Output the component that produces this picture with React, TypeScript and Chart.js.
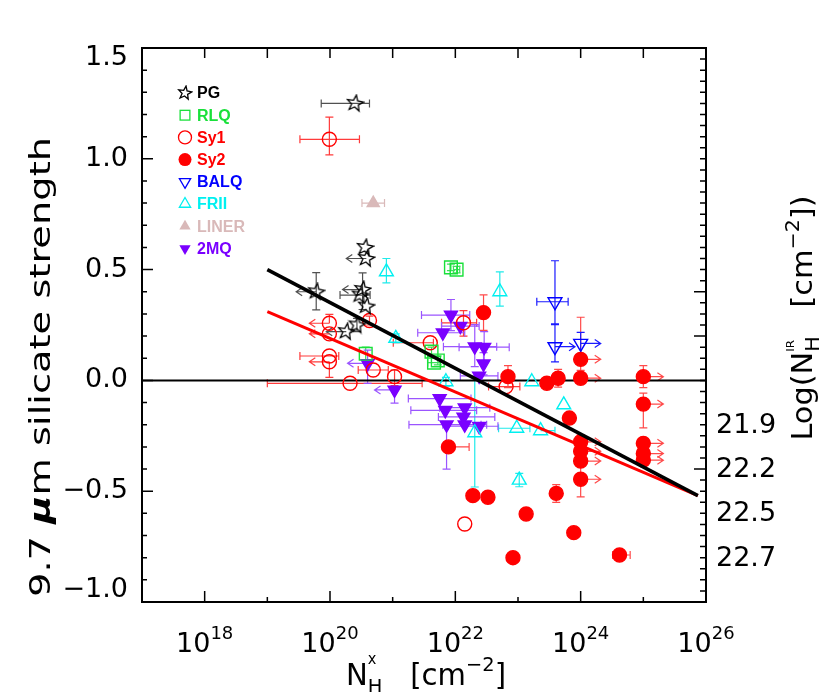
import React, { useEffect, useRef } from "react";
import { Chart, registerables } from "chart.js";
Chart.register(...registerables);

// Each row: [log10 N_H^x, 9.7um silicate strength, xErrLo (dex), xErrHi (dex), yErrLo, yErrHi, limit (-1 upper / +1 lower in N_H)]
const pgRows = [
  [20.40, 1.25, 0.54, 0.23, 0, 0, 0],
  [20.56, 0.60, 0, 0, 0, 0, 0],
  [20.58, 0.55, 0, 0, 0, 0, -1],
  [19.78, 0.40, 0, 0, 0.082, 0.086, -1],
  [20.52, 0.41, 0, 0, 0.09, 0.075, -1],
  [20.48, 0.385, 0.32, 0.16, 0, 0, 0],
  [20.58, 0.335, 0, 0, 0, 0, 0],
  [20.43, 0.25, 0, 0, 0.03, 0.03, 0],
  [20.26, 0.22, 0, 0, 0, 0, -1],
];
const rlqRows = [
  [21.93, 0.51, 0, 0, 0.015, 0.015, 0],
  [22.02, 0.50, 0.05, 0.05, 0.015, 0.015, 0],
  [20.57, 0.12, 0, 0, 0.03, 0.03, 0],
  [21.62, 0.13, 0, 0, 0.02, 0.02, 0],
  [21.66, 0.08, 0.1, 0.1, 0, 0, 0],
  [21.72, 0.09, 0, 0, 0.02, 0.02, 0],
];
const sy1Rows = [
  [19.99, 1.088, 0.47, 0.48, 0.07, 0.10, 0],
  [19.99, 0.258, 0, 0, 0, 0.04, -1],
  [19.99, 0.21, 0, 0, 0, 0, -1],
  [19.99, 0.11, 0.47, 0.15, 0, 0, 0],
  [19.99, 0.084, 0, 0, 0.07, 0, -1],
  [20.63, 0.27, 0, 0, 0.02, 0.02, 0],
  [21.60, 0.17, 0.59, 0.05, 0, 0, 0],
  [20.69, 0.047, 0.24, 0.24, 0, 0, 0],
  [21.03, 0.017, 0, 0, 0.04, 0.03, 0],
  [20.32, -0.013, 1.32, 1.15, 0, 0, 0],
  [22.13, 0.26, 0.35, 0.21, 0.06, 0.055, 0],
  [22.81, -0.028, 0.28, 0.22, 0, 0, 0],
  [22.15, -0.648, 0, 0, 0, 0, 0],
];
const sy2Rows = [
  [22.45, 0.306, 0, 0, 0.08, 0.08, 0],
  [22.84, 0.017, 0, 0, 0.05, 0.05, 0],
  [23.46, -0.013, 0, 0, 0.02, 0.02, 0],
  [23.64, 0.01, 0, 0, 0.04, 0.04, 0],
  [24.0, 0.095, 0, 0, 0.05, 0.19, 1],
  [24.0, 0.01, 0, 0, 0, 0, 1],
  [25.0, 0.017, 0, 0, 0.05, 0.05, 1],
  [25.0, -0.107, 0, 0, 0.107, 0.05, 1],
  [25.0, -0.284, 0, 0, 0.02, 0.02, 1],
  [25.0, -0.33, 0, 0, 0, 0, 1],
  [25.0, -0.36, 0, 0, 0, 0, 1],
  [24.0, -0.277, 0, 0, 0, 0, 1],
  [24.0, -0.32, 0, 0, 0, 0, 1],
  [24.0, -0.364, 0, 0, 0, 0, 1],
  [24.0, -0.446, 0, 0, 0.08, 0.2, 1],
  [23.82, -0.17, 0, 0, 0, 0, 0],
  [21.89, -0.30, 0, 0.33, 0, 0, 0],
  [22.28, -0.52, 0, 0, 0, 0, 0],
  [22.52, -0.527, 0, 0, 0, 0, 0],
  [23.61, -0.51, 0, 0, 0.04, 0.04, 0],
  [23.13, -0.603, 0, 0, 0, 0, 0],
  [23.89, -0.687, 0, 0, 0, 0, 0],
  [22.92, -0.80, 0, 0, 0, 0, 0],
  [24.62, -0.788, 0.11, 0.17, 0, 0, 0],
];
const balqRows = [
  [23.59, 0.355, 0.29, 0.21, 0.1, 0.185, 0],
  [23.59, 0.152, 0, 0, 0.068, 0.1, 1],
  [24.0, 0.167, 0, 0, 0.05, 0.05, 1],
];
const friiRows = [
  [20.90, 0.49, 0, 0, 0.05, 0.06, 0],
  [21.05, 0.19, 0, 0, 0.02, 0.02, 0],
  [21.85, -0.006, 0, 0, 0.02, 0.02, 0],
  [22.71, 0.40, 0, 0, 0.065, 0.09, 0],
  [23.22, -0.006, 0, 0, 0, 0, 0],
  [23.73, -0.11, 0, 0, 0, 0, 0],
  [22.98, -0.216, 0.29, 0.21, 0, 0, 0],
  [23.36, -0.227, 0, 0.23, 0, 0, 0],
  [22.31, -0.236, 0, 0, 0.245, 0.25, 0],
  [23.02, -0.45, 0, 0, 0.03, 0.03, 0],
];
const linerRows = [
  [20.69, 0.80, 0.18, 0.18, 0, 0, 0],
];
const mq2Rows = [
  [20.60, 0.077, 0, 0, 0.09, 0.06, -1],
  [21.03, -0.043, 0, 0, 0.06, 0, -1],
  [21.93, 0.295, 0.47, 0.3, 0.07, 0.07, 0],
  [22.08, 0.245, 0.3, 0.3, 0, 0, 0],
  [21.80, 0.215, 0.4, 0.35, 0, 0, 0],
  [22.31, 0.152, 0.5, 0.35, 0.09, 0.1, 0],
  [22.46, 0.15, 0.4, 0.4, 0.07, 0.07, 0],
  [22.45, 0.075, 0, 0, 0.05, 0.05, 0],
  [22.38, 0.02, 0.3, 0.3, 0, 0, 0],
  [21.75, -0.082, 0.5, 0.5, 0, 0, 0],
  [21.84, -0.135, 0.55, 0.5, 0, 0, 0],
  [22.15, -0.123, 0.4, 0.4, 0, 0, 0],
  [22.13, -0.165, 0.4, 0.5, 0, 0, 0],
  [21.86, -0.20, 0.6, 0.55, 0.2, 0, 0],
  [22.15, -0.20, 0.35, 0.35, 0, 0, 0],
  [22.38, -0.207, 0.5, 0.3, 0, 0, 0],
];

const seriesNames = ["PG", "RLQ", "Sy1", "Sy2", "BALQ", "FRII", "LINER", "2MQ"];
const seriesRows = [pgRows, rlqRows, sy1Rows, sy2Rows, balqRows, friiRows, linerRows, mq2Rows];

// fits: [log10 N_H, strength]
const blackFitLine = [[19.0, 0.50], [25.87, -0.52]];
const redFitLine = [[19.0, 0.31], [25.87, -0.52]];
const zeroLine = [[17, 0], [26, 0]];

const xTickExponents = [18, 19, 20, 21, 22, 23, 24, 25];
const xLabelExponents = [18, 20, 22, 24, 26];
const yTickValues = [1.5, 1.0, 0.5, 0.0, -0.5, -1.0];
const yTickLabels = ["1.5", "1.0", "0.5", "0.0", "\u22120.5", "\u22121.0"];
const rightTickValues = [-0.2, -0.4, -0.6, -0.8];
const rightTickLabels = ["21.9", "22.2", "22.5", "22.7"];

const STYLES: Record<string, any> = {
  PG: { color: "#000000", err: "#505050", shape: "star", filled: false, r: 9, rot: 0 },
  RLQ: { color: "#19e03a", err: "#3ee05a", shape: "rect", filled: false, r: 9, rot: 0 },
  Sy1: { color: "#ff0000", err: "#ff3b3b", shape: "circle", filled: false, r: 7, rot: 0 },
  Sy2: { color: "#ff0000", err: "#ff4a4a", shape: "circle", filled: true, r: 7, rot: 0 },
  BALQ: { color: "#0000ff", err: "#1a1aff", shape: "triangle", filled: false, r: 8, rot: 180 },
  FRII: { color: "#00f0f0", err: "#20eaea", shape: "triangle", filled: false, r: 8, rot: 0 },
  LINER: { color: "#d9b9b9", err: "#d9b9b9", shape: "triangle", filled: true, r: 7, rot: 0 },
  "2MQ": { color: "#7a00ff", err: "#9b55ff", shape: "triangle", filled: true, r: 7.5, rot: 180 },
};

const FONT = "'DejaVu Sans', 'Liberation Sans', sans-serif";

function makeStar(size: number, color: string) {
  const c = document.createElement("canvas");
  c.width = size;
  c.height = size;
  const ctx = c.getContext("2d")!;
  const cx = size / 2, cy = size / 2, R = size / 2 - 1, r = R * 0.42;
  ctx.beginPath();
  for (let i = 0; i < 10; i++) {
    const a = -Math.PI / 2 + (i * Math.PI) / 5 + 0.15;
    const rr = i % 2 ? r : R;
    ctx.lineTo(cx + rr * Math.cos(a), cy + rr * Math.sin(a));
  }
  ctx.closePath();
  ctx.strokeStyle = color;
  ctx.lineWidth = 1.3;
  ctx.stroke();
  return c;
}

function drawMarker(ctx: CanvasRenderingContext2D, st: any, x: number, y: number, r: number, star: HTMLCanvasElement) {
  ctx.save();
  ctx.strokeStyle = st.color;
  ctx.fillStyle = st.color;
  ctx.lineWidth = 1.3;
  if (st.shape === "star") {
    ctx.drawImage(star, x - star.width / 2, y - star.height / 2);
  } else if (st.shape === "circle") {
    ctx.beginPath();
    ctx.arc(x, y, r, 0, Math.PI * 2);
    st.filled ? ctx.fill() : ctx.stroke();
  } else if (st.shape === "rect") {
    ctx.strokeRect(x - r * 0.75, y - r * 0.75, r * 1.5, r * 1.5);
  } else {
    const s = st.rot === 180 ? -1 : 1;
    ctx.beginPath();
    ctx.moveTo(x, y - s * r);
    ctx.lineTo(x + r * 0.866, y + s * r * 0.5);
    ctx.lineTo(x - r * 0.866, y + s * r * 0.5);
    ctx.closePath();
    st.filled ? ctx.fill() : ctx.stroke();
  }
  ctx.restore();
}

type Run = { t: string; size: number; dy?: number; weight?: string; noAdvance?: boolean };

function drawRuns(ctx: CanvasRenderingContext2D, runs: Run[], x: number, y: number, align: string, targetW?: number) {
  let w = 0;
  const widths = runs.map((r) => {
    ctx.font = `${r.weight || "normal"} ${r.size}px ${FONT}`;
    const m = ctx.measureText(r.t).width;
    if (!r.noAdvance) w += m;
    return m;
  });
  const sx = targetW ? targetW / w : 1;
  ctx.save();
  ctx.translate(x, y);
  ctx.scale(sx, 1);
  let cx = align === "center" ? -w / 2 : align === "right" ? -w : 0;
  ctx.textAlign = "left";
  ctx.textBaseline = "alphabetic";
  runs.forEach((r, i) => {
    ctx.font = `${r.weight || "normal"} ${r.size}px ${FONT}`;
    ctx.fillText(r.t, cx, r.dy || 0);
    if (!r.noAdvance) cx += widths[i];
  });
  ctx.restore();
}

export default function App() {
  const ref = useRef<HTMLCanvasElement | null>(null);
  useEffect(() => {
    const canvas = ref.current;
    if (!canvas) return;
    const stars: Record<string, HTMLCanvasElement> = { big: makeStar(19, "#000"), small: makeStar(16, "#000") };

    const toPts = (rows: number[][]) => rows.map((r) => ({ x: Math.pow(10, r[0]), y: r[1] }));

    const scatterSets = seriesNames.map((name, i) => {
      const st = STYLES[name];
      let pointStyle: any = st.shape;
      if (st.shape === "star") pointStyle = stars.big;
      return {
        label: name,
        data: toPts(seriesRows[i]),
        pointStyle,
        pointRadius: st.r,
        pointRotation: st.rot,
        pointBorderColor: st.color,
        pointBackgroundColor: st.filled ? st.color : "rgba(0,0,0,0)",
        pointBorderWidth: 1.4,
        showLine: false,
        order: 5,
      };
    });

    const lineSet = (pts: number[][], color: string, width: number, order: number) => ({
      data: toPts(pts),
      showLine: true,
      borderColor: color,
      borderWidth: width,
      pointRadius: 0,
      order,
    });

    const decor = {
      id: "decor",
      beforeDatasetsDraw(chart: any) {
        const ctx: CanvasRenderingContext2D = chart.ctx;
        const xs = chart.scales.x, ys = chart.scales.y;
        const X = (l: number) => xs.getPixelForValue(Math.pow(10, l));
        const Y = (v: number) => ys.getPixelForValue(v);
        ctx.save();
        ctx.lineWidth = 1.2;
        seriesNames.forEach((name, si) => {
          const st = STYLES[name];
          ctx.strokeStyle = st.err;
          seriesRows[si].forEach((r) => {
            const [lx, v, xl, xh, yl, yh, lim] = r;
            const px = X(lx), py = Y(v);
            ctx.beginPath();
            if (xl > 0) {
              const e = X(lx - xl);
              ctx.moveTo(px, py); ctx.lineTo(e, py);
              ctx.moveTo(e, py - 4); ctx.lineTo(e, py + 4);
            }
            if (xh > 0) {
              const e = X(lx + xh);
              ctx.moveTo(px, py); ctx.lineTo(e, py);
              ctx.moveTo(e, py - 4); ctx.lineTo(e, py + 4);
            }
            if (yl > 0) {
              const e = Y(v - yl);
              ctx.moveTo(px, py); ctx.lineTo(px, e);
              ctx.moveTo(px - 4, e); ctx.lineTo(px + 4, e);
            }
            if (yh > 0) {
              const e = Y(v + yh);
              ctx.moveTo(px, py); ctx.lineTo(px, e);
              ctx.moveTo(px - 4, e); ctx.lineTo(px + 4, e);
            }
            ctx.stroke();
            if (lim !== 0) {
              const e = X(lx + lim * 0.32);
              const d = lim;
              ctx.beginPath();
              ctx.moveTo(px, py); ctx.lineTo(e, py);
              ctx.moveTo(e - d * 6, py - 4); ctx.lineTo(e, py); ctx.lineTo(e - d * 6, py + 4);
              ctx.stroke();
            }
          });
        });
        ctx.restore();
      },
      afterDraw(chart: any) {
        const ctx: CanvasRenderingContext2D = chart.ctx;
        const xs = chart.scales.x, ys = chart.scales.y;
        const a = chart.chartArea;
        const X = (l: number) => xs.getPixelForValue(Math.pow(10, l));
        const Y = (v: number) => ys.getPixelForValue(v);
        ctx.save();
        ctx.strokeStyle = "#000";
        ctx.fillStyle = "#000";
        // frame
        ctx.lineWidth = 2;
        ctx.strokeRect(a.left, a.top, a.right - a.left, a.bottom - a.top);
        // x ticks
        ctx.lineWidth = 1.5;
        ctx.beginPath();
        xTickExponents.forEach((e) => {
          const px = X(e);
          const major = e % 2 === 0;
          ctx.moveTo(px, a.bottom); ctx.lineTo(px, a.bottom - (major ? 11 : 5));
          ctx.moveTo(px, a.top); ctx.lineTo(px, a.top + 10);
        });
        // y ticks left every 0.1
        for (let k = -9; k <= 14; k++) {
          const v = k / 10;
          const py = Y(v);
          const major = k % 5 === 0;
          ctx.moveTo(a.left, py); ctx.lineTo(a.left + (major ? 11 : 5), py);
        }
        // right ticks every 0.05
        for (let k = -19; k <= 29; k++) {
          const v = k / 20;
          const py = Y(v);
          const long = k === 8 || k === 4 || k === -8;
          ctx.moveTo(a.right, py); ctx.lineTo(a.right - (long ? 12 : 6), py);
        }
        ctx.stroke();

        // y labels
        ctx.font = `27px ${FONT}`;
        ctx.textAlign = "right";
        ctx.textBaseline = "middle";
        yTickValues.forEach((v, i) => {
          const py = Math.min(Math.max(Y(v), a.top + 10), a.bottom - 12);
          ctx.fillText(yTickLabels[i], a.left - 14, py);
        });
        // right labels
        ctx.textAlign = "left";
        rightTickValues.forEach((v, i) => {
          ctx.fillText(rightTickLabels[i], a.right + 10, Y(v) + 1);
        });
        // x labels
        xLabelExponents.forEach((e) => {
          drawRuns(ctx, [{ t: "10", size: 27 }, { t: String(e), size: 18, dy: -13 }], X(e), 652, "center");
        });

        // axis titles
        drawRuns(
          ctx,
          [
            { t: "N", size: 30 },
            { t: "x", size: 15, dy: -21, noAdvance: true },
            { t: "H", size: 20, dy: 8 },
            { t: "   [cm", size: 30 },
            { t: "\u22122", size: 20, dy: -14 },
            { t: "]", size: 30 },
          ],
          426, 685, "center", 160
        );
        ctx.save();
        ctx.translate(50, 367);
        ctx.rotate(-Math.PI / 2);
        drawRuns(
          ctx,
          [
            { t: "9.7 ", size: 28 },
            { t: "\u03bc", size: 28, weight: "bold italic" },
            { t: "m silicate strength", size: 28 },
          ],
          0, 0, "center", 460
        );
        ctx.restore();
        ctx.save();
        ctx.translate(812, 318);
        ctx.rotate(-Math.PI / 2);
        drawRuns(
          ctx,
          [
            { t: "Log(N", size: 28 },
            { t: "IR", size: 11, dy: -18, noAdvance: true },
            { t: "H", size: 19, dy: 7 },
            { t: "   [cm", size: 28 },
            { t: "\u22122", size: 19, dy: -13 },
            { t: "])", size: 28 },
          ],
          0, 0, "center", 245
        );
        ctx.restore();

        // legend
        seriesNames.forEach((name, i) => {
          const st = STYLES[name];
          const ly = 93 + i * 22.2;
          drawMarker(ctx, st, 185, ly, 6.5, stars.small);
          ctx.font = `bold 16px 'Liberation Sans', Arial, sans-serif`;
          ctx.textAlign = "left";
          ctx.textBaseline = "middle";
          ctx.fillStyle = st.color;
          ctx.fillText(name, 197, ly + 1);
        });
        ctx.restore();
      },
    };

    const chart = new Chart(canvas, {
      type: "scatter",
      data: {
        datasets: [
          ...scatterSets,
          lineSet(zeroLine, "#000000", 2, 10),
          lineSet(redFitLine, "#ff0000", 3, 1),
          lineSet(blackFitLine, "#000000", 3.5, 0),
        ] as any,
      },
      options: {
        responsive: false,
        animation: false,
        devicePixelRatio: 1,
        layout: { padding: { left: 142, right: 124, top: 48, bottom: 90 } },
        plugins: { legend: { display: false }, tooltip: { enabled: false } },
        scales: {
          x: { type: "logarithmic", min: 1e17, max: 1e26, display: false },
          y: { type: "linear", min: -1, max: 1.5, display: false },
        },
      } as any,
      plugins: [decor],
    });
    return () => chart.destroy();
  }, []);
  return (
    <div style={{ position: "fixed", left: 0, top: 0, width: 830, height: 692, background: "#fff" }}>
      <canvas ref={ref} width={830} height={692} style={{ display: "block" }} />
    </div>
  );
}
